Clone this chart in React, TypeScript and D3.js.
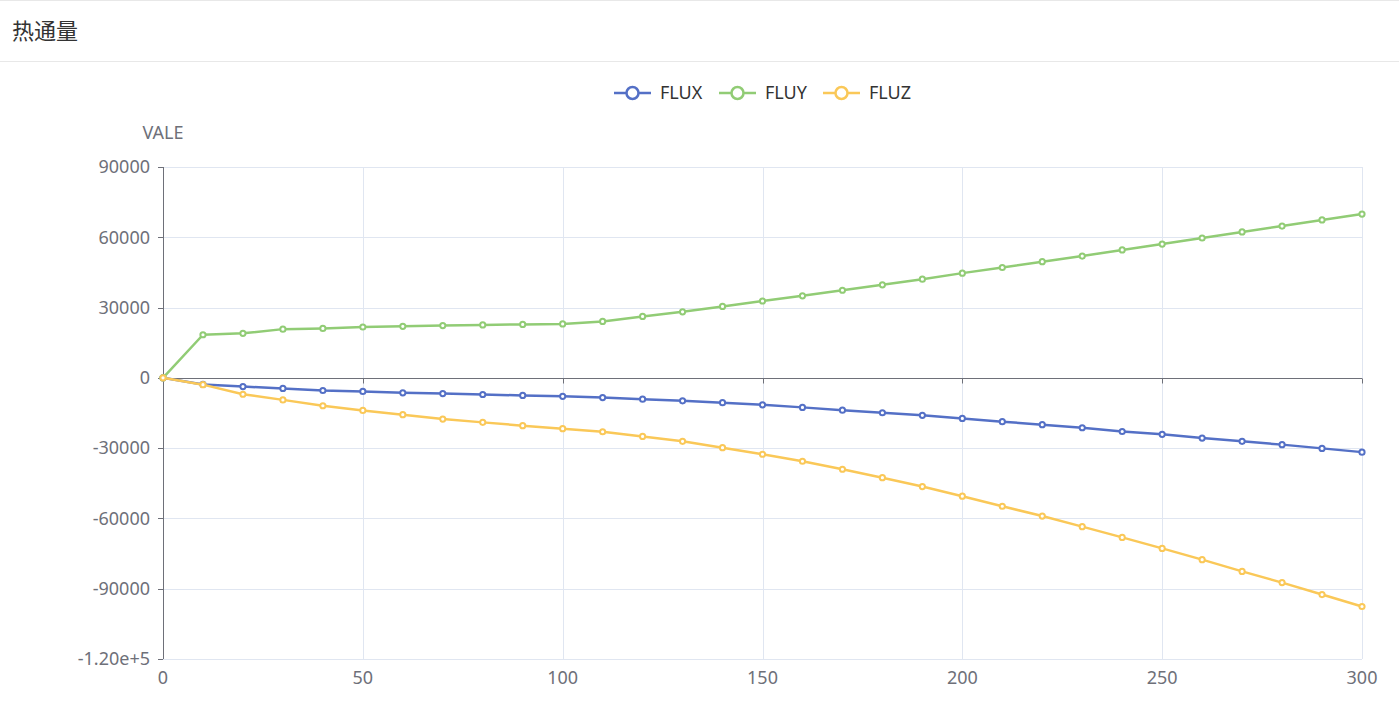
import React, { useEffect, useRef } from "react";
import * as d3 from "d3";

const xValues = [0, 10, 20, 30, 40, 50, 60, 70, 80, 90, 100, 110, 120, 130, 140, 150, 160, 170, 180, 190, 200, 210, 220, 230, 240, 250, 260, 270, 280, 290, 300];
const fluxValues = [0, -2800, -3700, -4500, -5400, -5800, -6400, -6700, -7100, -7500, -7900, -8400, -9100, -9800, -10600, -11500, -12600, -13800, -14900, -16000, -17300, -18700, -20000, -21300, -22900, -24100, -25700, -27100, -28500, -30100, -31700];
const fluyValues = [0, 18400, 19000, 20800, 21100, 21700, 22000, 22300, 22600, 22800, 23000, 24100, 26200, 28200, 30500, 32800, 35000, 37400, 39700, 42100, 44700, 47100, 49600, 52000, 54600, 57100, 59700, 62300, 64800, 67400, 69900];
const fluzValues = [0, -2900, -7000, -9400, -11900, -13900, -15700, -17600, -19000, -20400, -21700, -23000, -25000, -27100, -29800, -32600, -35600, -39000, -42600, -46400, -50500, -54800, -59000, -63500, -68100, -72800, -77600, -82600, -87400, -92500, -97600];
const seriesNames = ["FLUX", "FLUY", "FLUZ"];
const seriesColors = ["#5470c6", "#91cc75", "#fac858"];
const yTicks = [90000, 60000, 30000, 0, -30000, -60000, -90000, -120000];
const yTickLabels = ["90000", "60000", "30000", "0", "-30000", "-60000", "-90000", "-1.20e+5"];
const xTicks = [0, 50, 100, 150, 200, 250, 300];
const titleText = "热通量";
const yAxisName = "VALE";

const W = 1399;
const H = 718;
const FONT = "'Noto Sans', 'Noto Sans CJK SC', sans-serif";

export default function App() {
  const ref = useRef<SVGSVGElement | null>(null);

  useEffect(() => {
    const svg = d3.select(ref.current);
    svg.selectAll("*").remove();

    const x = d3.scaleLinear().domain([0, 300]).range([163, 1362]);
    const y = d3.scaleLinear().domain([-120000, 90000]).range([659, 167]);

    // header
    svg.append("rect").attr("x", 0).attr("y", 0).attr("width", W).attr("height", H).attr("fill", "#fff");
    svg.append("line").attr("x1", 0).attr("x2", W).attr("y1", 0.5).attr("y2", 0.5).attr("stroke", "#e8e8e8");
    svg.append("line").attr("x1", 0).attr("x2", W).attr("y1", 61.5).attr("y2", 61.5).attr("stroke", "#e8e8e8");
    svg.append("text").attr("x", 12).attr("y", 39).attr("font-size", 22).attr("fill", "#333")
      .attr("font-family", "'Noto Sans CJK SC', sans-serif").text(titleText);

    // grid
    const g = svg.append("g");
    g.selectAll("line.hg").data(yTicks).enter().append("line")
      .attr("x1", x(0)).attr("x2", x(300))
      .attr("y1", (d) => Math.round(y(d)) + 0.5).attr("y2", (d) => Math.round(y(d)) + 0.5)
      .attr("stroke", "#e0e6f1");
    g.selectAll("line.vg").data(xTicks.filter((d) => d !== 0)).enter().append("line")
      .attr("y1", y(90000)).attr("y2", y(-120000))
      .attr("x1", (d) => Math.round(x(d)) + 0.5).attr("x2", (d) => Math.round(x(d)) + 0.5)
      .attr("stroke", "#e0e6f1");

    // y axis
    const axisColor = "#6e7079";
    g.append("line").attr("x1", x(0) + 0.5).attr("x2", x(0) + 0.5).attr("y1", y(90000)).attr("y2", y(-120000))
      .attr("stroke", axisColor);
    g.selectAll("line.yt").data(yTicks).enter().append("line")
      .attr("x1", x(0) - 5).attr("x2", x(0))
      .attr("y1", (d) => Math.round(y(d)) + 0.5).attr("y2", (d) => Math.round(y(d)) + 0.5)
      .attr("stroke", axisColor);
    g.selectAll("text.yl").data(yTicks).enter().append("text")
      .attr("x", x(0) - 13).attr("y", (d) => y(d)).attr("dy", "0.35em")
      .attr("text-anchor", "end").attr("font-size", 18).attr("fill", axisColor).attr("font-family", FONT)
      .text((d, i) => yTickLabels[i]);
    g.append("text").attr("x", x(0)).attr("y", 139).attr("text-anchor", "middle")
      .attr("font-size", 18).attr("fill", axisColor).attr("font-family", FONT).text(yAxisName);

    // x axis at zero
    const y0 = Math.round(y(0)) + 0.5;
    g.append("line").attr("x1", x(0)).attr("x2", x(300)).attr("y1", y0).attr("y2", y0).attr("stroke", axisColor);
    g.selectAll("line.xt").data(xTicks).enter().append("line")
      .attr("x1", (d) => Math.round(x(d)) + 0.5).attr("x2", (d) => Math.round(x(d)) + 0.5)
      .attr("y1", y0).attr("y2", y0 + 5).attr("stroke", axisColor);
    g.selectAll("text.xl").data(xTicks).enter().append("text")
      .attr("x", (d) => x(d)).attr("y", 678).attr("dy", "0.35em").attr("text-anchor", "middle")
      .attr("font-size", 18).attr("fill", axisColor).attr("font-family", FONT)
      .text((d) => String(d));

    // series
    const allSeries = [fluxValues, fluyValues, fluzValues];
    const line = d3.line<number>().x((d, i) => x(xValues[i])).y((d) => y(d));
    allSeries.forEach((vals, si) => {
      const sg = svg.append("g");
      sg.append("path").attr("d", line(vals) as string).attr("fill", "none")
        .attr("stroke", seriesColors[si]).attr("stroke-width", 2.5).attr("stroke-linejoin", "round");
      sg.selectAll("circle").data(vals).enter().append("circle")
        .attr("cx", (d, i) => x(xValues[i])).attr("cy", (d) => y(d)).attr("r", 2.6)
        .attr("fill", "#fff").attr("stroke", seriesColors[si]).attr("stroke-width", 2);
    });

    // legend
    const legendStarts = [614, 719, 823];
    seriesNames.forEach((name, i) => {
      const lx = legendStarts[i];
      const ly = 93;
      const lg = svg.append("g");
      lg.append("line").attr("x1", lx).attr("x2", lx + 37).attr("y1", ly).attr("y2", ly)
        .attr("stroke", seriesColors[i]).attr("stroke-width", 2.5);
      lg.append("circle").attr("cx", lx + 18.5).attr("cy", ly).attr("r", 6)
        .attr("fill", "#fff").attr("stroke", seriesColors[i]).attr("stroke-width", 2.5);
      lg.append("text").attr("x", lx + 46).attr("y", ly).attr("dy", "0.35em")
        .attr("font-size", 18).attr("fill", "#333").attr("font-family", FONT).text(name);
    });
  }, []);

  return (
    <svg ref={ref} width={W} height={H}
      style={{ position: "absolute", left: 0, top: 0, display: "block" }} />
  );
}
